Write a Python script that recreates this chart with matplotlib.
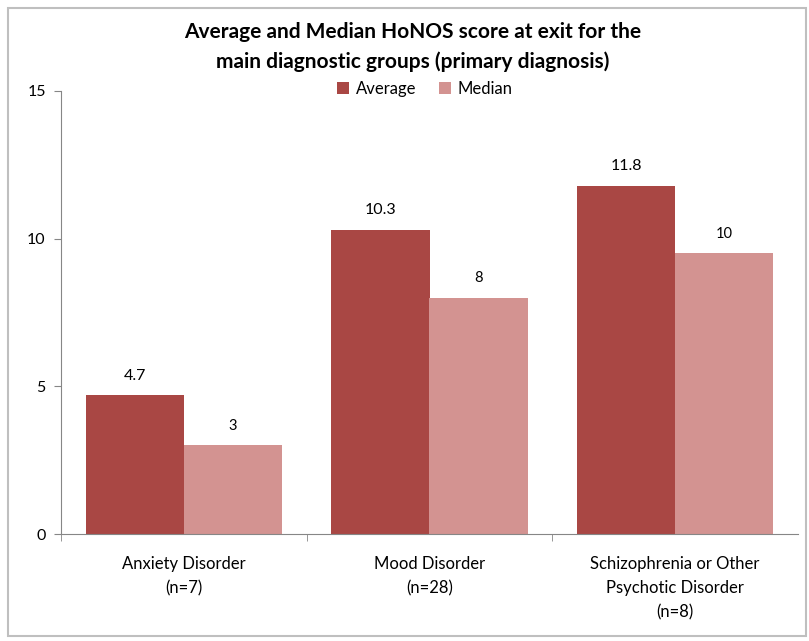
import matplotlib
matplotlib.use("Agg")
import matplotlib.pyplot as plt
from matplotlib.patches import Rectangle
import numpy as np

categories = ["Anxiety Disorder\n(n=7)", "Mood Disorder\n(n=28)",
              "Schizophrenia or Other\nPsychotic Disorder\n(n=8)"]
average = [4.7, 10.3, 11.8]
median = [3.0, 8.0, 9.5]
series_names = ["Average", "Median"]
y_ticks = [0, 5, 10, 15]

avg_color = "#A94744"
med_color = "#D39391"
axis_gray = "#868686"

plt.rcParams["font.family"] = ["Lato", "DejaVu Sans"]

fig = plt.figure(figsize=(8.09, 6.41), dpi=100)
fig.patches.append(Rectangle((8 / 809, 5 / 641), 798 / 809, 628 / 641,
                             transform=fig.transFigure, fill=False,
                             edgecolor="#BFBFBF", linewidth=1.5))

ax = fig.add_axes([61 / 809, (641 - 534) / 641, 737 / 809, 443 / 641])
x = np.arange(len(categories))
w = 0.4
b1 = ax.bar(x - w / 2, average, w, color=avg_color, label=series_names[0])
b2 = ax.bar(x + w / 2, median, w, color=med_color, label=series_names[1])

for rect, v in zip(b1, average):
    ax.annotate(f"{v:.1f}", (rect.get_x() + rect.get_width() / 2, v),
                xytext=(0, 9), textcoords="offset points", ha="center",
                va="bottom", fontsize=11.5)
for rect, v in zip(b2, median):
    ax.annotate(f"{v:.0f}", (rect.get_x() + rect.get_width() / 2, v),
                xytext=(0, 9), textcoords="offset points", ha="center",
                va="bottom", fontsize=10.5)

ax.set_xlim(-0.5, len(categories) - 0.5)
ax.set_ylim(0, 15)
ax.set_yticks(y_ticks)
ax.set_xticks(x)
ax.set_xticklabels(categories, fontsize=12, linespacing=1.6)
ax.set_xticks(np.arange(len(categories)) - 0.5, minor=True)
ax.tick_params(axis="x", which="major", length=0, pad=16)
ax.tick_params(axis="x", which="minor", length=5, color=axis_gray)
ax.tick_params(axis="y", length=5, color=axis_gray, labelsize=11.5, pad=6)
for s in ["top", "right"]:
    ax.spines[s].set_visible(False)
for s in ["left", "bottom"]:
    ax.spines[s].set_color(axis_gray)

fig.text(413 / 809, 1 - 47 / 641,
         "Average and Median HoNOS score at exit for the\nmain diagnostic groups (primary diagnosis)",
         ha="center", va="center", fontsize=15, fontweight="bold",
         linespacing=1.6)
fig.legend(handles=[b1, b2], loc="center", bbox_to_anchor=(425 / 809, 1 - 89 / 641),
           ncol=2, frameon=False, fontsize=12, handlelength=0.7,
           handleheight=0.7, handletextpad=0.4, columnspacing=1.4)

fig.savefig("out.png", dpi=100)
